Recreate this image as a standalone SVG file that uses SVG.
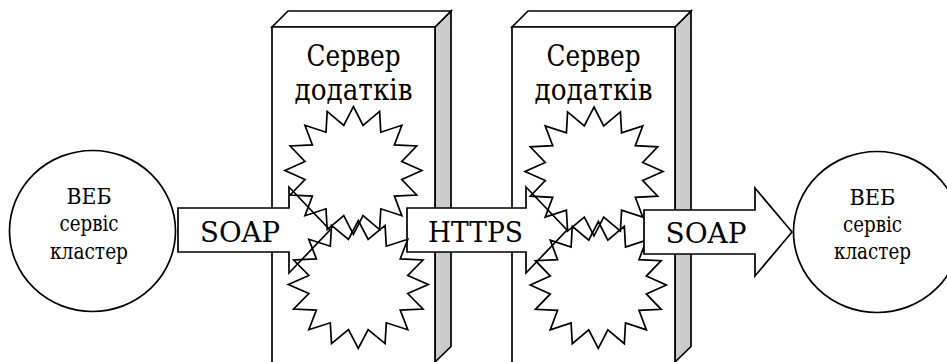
<svg xmlns="http://www.w3.org/2000/svg" xmlns:xlink="http://www.w3.org/1999/xlink" width="947" height="362" viewBox="0 0 947 362">
<style>
.ln{stroke:#000;stroke-width:1.7;stroke-linejoin:miter;stroke-miterlimit:10}
.wf{fill:#fff}
.gf{fill:#cccccc}
.nf{fill:none}
.tx{font-family:'DejaVu Serif',serif;fill:#000;text-anchor:middle}
.t29{font-size:29px}
.t28{font-size:28px}
.t22{font-size:22px}
</style>
<defs>
<path id="star" vector-effect="non-scaling-stroke" d="M0,-100 L14.05,-70.61 L38.27,-92.39 L40.00,-59.86 L70.71,-70.71 L59.86,-40.00 L92.39,-38.27 L70.61,-14.05 L100,0 L70.61,14.05 L92.39,38.27 L59.86,40.00 L70.71,70.71 L40.00,59.86 L38.27,92.39 L14.05,70.61 L0,100 L-14.05,70.61 L-38.27,92.39 L-40.00,59.86 L-70.71,70.71 L-59.86,40.00 L-92.39,38.27 L-70.61,14.05 L-100,0 L-70.61,-14.05 L-92.39,-38.27 L-59.86,-40.00 L-70.71,-70.71 L-40.00,-59.86 L-38.27,-92.39 L-14.05,-70.61 Z"/>
</defs>

<g id="client-left">
<ellipse class="ln wf" cx="92.5" cy="231" rx="83" ry="80.5"/>
<text class="tx t22" x="89" y="203.5" textLength="45" lengthAdjust="spacingAndGlyphs">ВЕБ</text>
<text class="tx t22" x="89" y="231" textLength="59" lengthAdjust="spacingAndGlyphs">сервіс</text>
<text class="tx t22" x="89" y="258.5" textLength="78" lengthAdjust="spacingAndGlyphs">кластер</text>
</g>

<g id="client-right">
<ellipse class="ln wf" cx="877" cy="232" rx="83.5" ry="80.5"/>
<text class="tx t22" x="872.5" y="205" textLength="46" lengthAdjust="spacingAndGlyphs">ВЕБ</text>
<text class="tx t22" x="872.5" y="232" textLength="59" lengthAdjust="spacingAndGlyphs">сервіс</text>
<text class="tx t22" x="872.5" y="259" textLength="77" lengthAdjust="spacingAndGlyphs">кластер</text>
</g>

<g id="server1">
<path class="ln gf" d="M435,27 L451,11 L451,346.5 L435,362 Z"/>
<path class="ln wf" d="M272,27 L288,11 L451,11 L435,27 Z"/>
<path class="ln wf" d="M272,364 V27 H435 V364"/>
<text class="tx t29" x="353.5" y="66" textLength="94" lengthAdjust="spacingAndGlyphs">Сервер</text>
<text class="tx t29" x="353.5" y="100" textLength="118" lengthAdjust="spacingAndGlyphs">додатків</text>
</g>

<g id="server2">
<path class="ln gf" d="M675,27 L691,11 L691,346.5 L675,362 Z"/>
<path class="ln wf" d="M512,27 L528,11 L691,11 L675,27 Z"/>
<path class="ln wf" d="M512,364 V27 H675 V364"/>
<text class="tx t29" x="593.5" y="66" textLength="94" lengthAdjust="spacingAndGlyphs">Сервер</text>
<text class="tx t29" x="593.5" y="100" textLength="118" lengthAdjust="spacingAndGlyphs">додатків</text>
</g>

<g id="connectors">
<g id="arrow-soap-1">
<path class="ln wf" d="M178,208 H289 V187 L330,230 L289,273 V252 H178 Z"/>
<text class="tx t28" x="240" y="241.5" textLength="80" lengthAdjust="spacingAndGlyphs">SOAP</text>
</g>
<g id="arrow-https">
<path class="ln wf" d="M407,208 H526 V187 L567,230 L526,273 V252 H407 Z"/>
<text class="tx t28" x="475.5" y="241.5" textLength="95" lengthAdjust="spacingAndGlyphs">HTTPS</text>
</g>
</g>

<g id="stars">
<use xlink:href="#star" class="ln nf" transform="translate(353.4,170.5) scale(0.685,0.64)"/>
<use xlink:href="#star" class="ln nf" transform="translate(358.3,284.5) scale(0.70,0.64)"/>
<use xlink:href="#star" class="ln nf" transform="translate(594,171.5) scale(0.69,0.645)"/>
<use xlink:href="#star" class="ln nf" transform="translate(598.3,285) scale(0.68,0.635)"/>
</g>

<g id="connectors-top">
<g id="arrow-soap-2">
<path class="ln wf" d="M644,210 H755 V188 L792,232 L755,276 V254 H644 Z"/>
<text class="tx t28" x="706" y="243" textLength="81" lengthAdjust="spacingAndGlyphs">SOAP</text>
</g>
</g>
</svg>
